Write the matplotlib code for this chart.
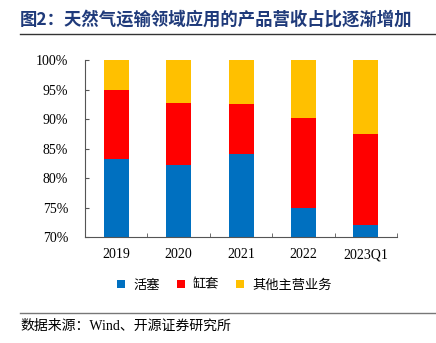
import numpy as np
import matplotlib.pyplot as plt
from matplotlib.patches import Patch
from matplotlib.lines import Line2D

plt.rcParams['font.family'] = ['Liberation Serif', 'Noto Sans CJK SC', 'DejaVu Sans']

categories = ['2019', '2020', '2021', '2022', '2023Q1']
piston = [83.2, 82.25, 84.1, 74.9, 72.1]
liner = [11.65, 10.55, 8.5, 15.3, 15.35]
other = [5.15, 7.2, 7.4, 9.8, 12.55]
labels = ['活塞', '缸套', '其他主营业务']
colors = ['#0070C0', '#FF0000', '#FFC000']

fig = plt.figure(figsize=(4.36, 3.43), dpi=100)
ax = fig.add_axes([0.195, 0.308, 0.7156, 0.517])

x = np.arange(len(categories))
piston = np.array(piston)
liner = np.array(liner)
other = np.array(other)
ax.bar(x, piston, width=0.4, color=colors[0])
ax.bar(x, liner, width=0.4, bottom=piston, color=colors[1])
ax.bar(x, other, width=0.4, bottom=piston + liner, color=colors[2])

ax.set_xlim(-0.5, len(categories) - 0.5)
ax.set_ylim(70, 100)
ax.set_yticks(np.arange(70, 101, 5))
ax.set_yticklabels([f'{v}%' for v in range(70, 101, 5)], fontsize=10)
ax.set_xticks(x)
ax.set_xticklabels(categories, fontsize=10)
ax.set_xticks(np.arange(0.5, len(categories), 1), minor=True)
ax.tick_params(axis='x', which='major', length=0, pad=8)
ax.tick_params(axis='x', which='minor', direction='in', length=3, color='#555555')
ax.tick_params(axis='y', direction='in', length=3, color='#555555', pad=12)
for s in ['top', 'right']:
    ax.spines[s].set_visible(False)
for s in ['left', 'bottom']:
    ax.spines[s].set_color('#555555')

handles = [Patch(facecolor=c, edgecolor='none') for c in colors]
fig.legend(handles, labels, loc='center', bbox_to_anchor=(0.515, 0.168), ncol=3,
           frameon=False, fontsize=9.5, handlelength=0.6, handleheight=0.6,
           handletextpad=0.6, columnspacing=1.3)

fig.text(0.046, 0.944, '图2：天然气运输领域应用的产品营收占比逐渐增加', fontsize=12.5,
         fontweight='bold', color='#1F3A7A', va='center', family=['Noto Sans CJK SC'])
fig.add_artist(Line2D([0.046, 1.0], [0.9, 0.9], color='#333333', lw=1))
fig.add_artist(Line2D([0.046, 1.0], [0.087, 0.087], color='#777777', lw=1))
fig.text(0.046, 0.05, '数据来源：Wind、开源证券研究所', fontsize=10, va='center')

fig.savefig('out.png', dpi=100)
